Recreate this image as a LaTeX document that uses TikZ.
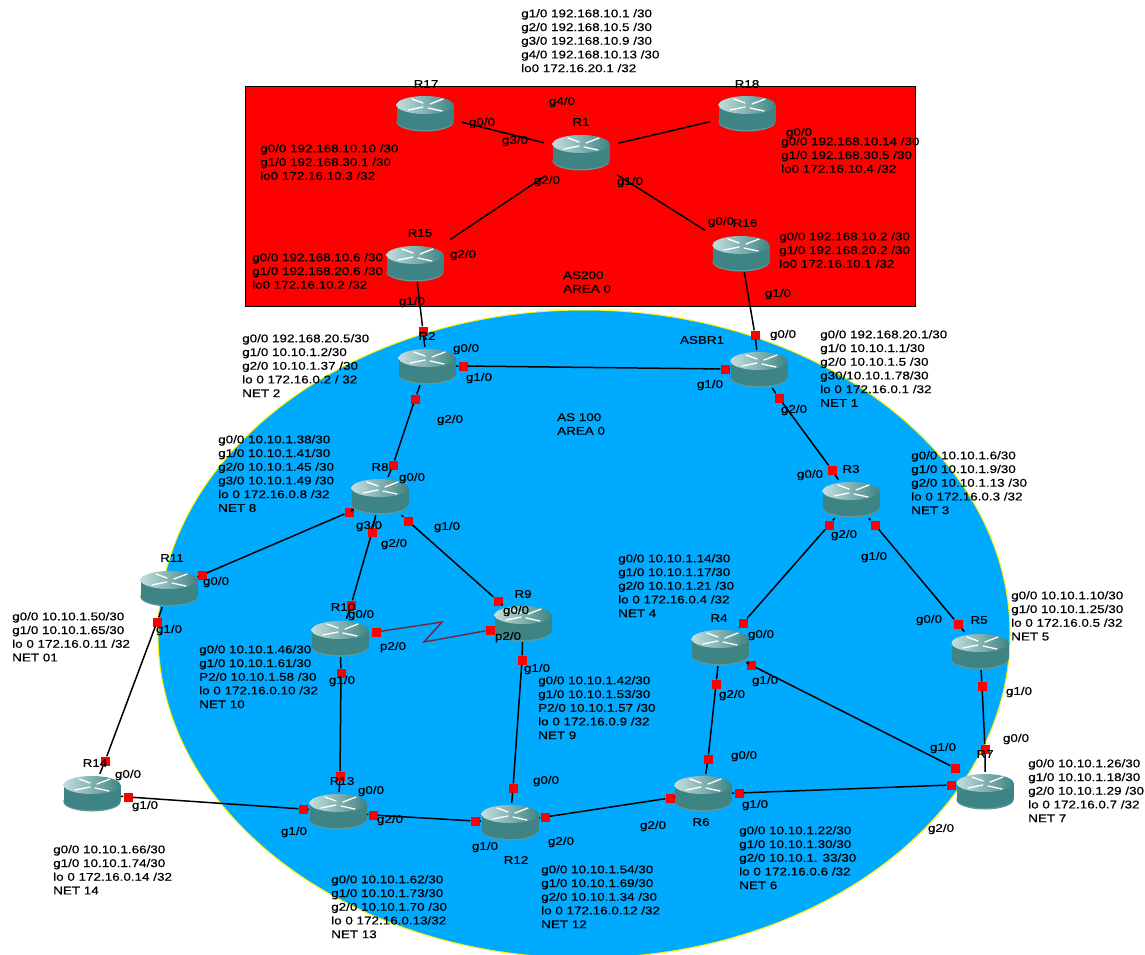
\documentclass[tikz,border=0pt]{standalone}
\usepackage{fontspec}
\usepackage{xcolor}
\setmainfont[FakeStretch=1.2, FakeBold=0.5]{Liberation Sans}
\definecolor{areablue}{HTML}{00AAFF}
\definecolor{bodyteal}{HTML}{3F8484}
\definecolor{rimteal}{HTML}{5E9A9A}
\definecolor{topteal}{HTML}{C4DEDE}
\definecolor{serialred}{HTML}{7A1F2E}

\begin{document}
\begin{tikzpicture}[x=1pt, y=-1pt,
                    every node/.style={font=\fontsize{11.2}{13.7}\selectfont},
                    routerbox/.style={minimum width=58pt, minimum height=38pt, inner sep=0pt,
                      path picture={
                        \begin{scope}[shift={(path picture bounding box.center)}]
                          \fill[rimteal] (0,9) ellipse [x radius=28.5, y radius=9.5];
                          \fill[bodyteal] (-28.5,-8) rectangle (28.5,8);
                          \fill[bodyteal] (0,8) ellipse [x radius=28.5, y radius=9];
                          \shade[left color=topteal, right color=bodyteal] (0,-8) ellipse [x radius=28.5, y radius=9];
                          \draw[white, line width=1.3pt, line cap=round]
                            (-13,-14) -- (-2,-10) (-17,-3) -- (-2,-6)
                            (18,-14) -- (5,-9) (17,-2) -- (3,-5);
                        \end{scope}
                      }},
                    port/.style={fill=red, minimum size=9pt, inner sep=0pt},
                    link/.style={line width=1.5pt},
                    gaplink/.style={link, shorten <=8pt, shorten >=8pt},
                    serial/.style={line width=1.3pt, serialred},
                    ifname/.style={inner sep=0pt},
                    rname/.style={inner sep=0pt},
                    addr/.style={anchor=north west, align=left, inner sep=0pt, yshift=-1pt}]
  \useasboundingbox (0,0) rectangle (1145,955);

  % areas
  \draw[yellow, fill=areablue, line width=1pt] (584,634) ellipse [x radius=426, y radius=324];
  \draw[black, fill=red, line width=1pt] (245,87) rectangle (915,306);

  % routers
  \node[routerbox] (R1) at (581,152) {};
  \node[routerbox] (R17) at (425,113) {};
  \node[routerbox] (R18) at (747,113) {};
  \node[routerbox] (R15) at (415,263) {};
  \node[routerbox] (R16) at (741,253) {};
  \node[routerbox] (R2) at (427,366) {};
  \node[routerbox] (ASBR1) at (759,369) {};
  \node[routerbox] (R8) at (380,496) {};
  \node[routerbox] (R3) at (851,499) {};
  \node[routerbox] (R11) at (169,588) {};
  \node[routerbox] (R10) at (340,638) {};
  \node[routerbox] (R9) at (523,623) {};
  \node[routerbox] (R4) at (720,647) {};
  \node[routerbox] (R5) at (980,651) {};
  \node[routerbox] (R14) at (92,793) {};
  \node[routerbox] (R13) at (338,811) {};
  \node[routerbox] (R12) at (510,822) {};
  \node[routerbox] (R6) at (703,793) {};
  \node[routerbox] (R7) at (985,791) {};

  % ports
  \node[port] (R2top) at (423,331) {};
  \node[port] (ASBRtop) at (755,335) {};
  \node[port] (R2a) at (463,366) {};
  \node[port] (ASBRa) at (725,369) {};
  \node[port] (R2b) at (415,399) {};
  \node[port] (R8a) at (393,465) {};
  \node[port] (ASBRb) at (779,398) {};
  \node[port] (R3a) at (832,470) {};
  \node[port] (R8b) at (349,512) {};
  \node[port] (R11a) at (202,575) {};
  \node[port] (R8c) at (372,532) {};
  \node[port] (R10a) at (351,605) {};
  \node[port] (R8d) at (408,521) {};
  \node[port] (R9a) at (498,601) {};
  \node[port] (R10b) at (376,632) {};
  \node[port] (R9b) at (490,630) {};
  \node[port] (R10c) at (341,673) {};
  \node[port] (R13a) at (340,776) {};
  \node[port] (R9c) at (522,660) {};
  \node[port] (R12a) at (513,788) {};
  \node[port] (R11b) at (157,622) {};
  \node[port] (R14a) at (105,761) {};
  \node[port] (R14b) at (128,797) {};
  \node[port] (R13b) at (303,809) {};
  \node[port] (R13c) at (373,815) {};
  \node[port] (R12b) at (475,821) {};
  \node[port] (R12c) at (545,817) {};
  \node[port] (R6a) at (670,798) {};
  \node[port] (R3b) at (829,525) {};
  \node[port] (R4a) at (743,623) {};
  \node[port] (R3c) at (875,525) {};
  \node[port] (R5a) at (958,624) {};
  \node[port] (R4b) at (716,684) {};
  \node[port] (R6b) at (708,759) {};
  \node[port] (R4c) at (751,665) {};
  \node[port] (R7a) at (955,768) {};
  \node[port] (R5b) at (982,686) {};
  \node[port] (R7b) at (985,749) {};
  \node[port] (R6c) at (739,793) {};
  \node[port] (R7c) at (951,785) {};
  \coordinate (zigA) at (442,622);
  \coordinate (zigB) at (424,642);

  % links
  \draw[gaplink] (R1) -- (R17);
  \draw[gaplink] (R1) -- (R18);
  \draw[gaplink] (R1) -- (R15);
  \draw[gaplink] (R1) -- (R16);
  \draw[link] (R15) -- (R2top) -- (R2);
  \draw[link] (R16) -- (ASBRtop) -- (ASBR1);
  \draw[link] (R2) -- (R2a) -- (ASBRa) -- (ASBR1);
  \draw[link] (R2) -- (R2b) -- (R8a) -- (R8);
  \draw[link] (ASBR1) -- (ASBRb) -- (R3a) -- (R3);
  \draw[link] (R8) -- (R8b) -- (R11a) -- (R11);
  \draw[link] (R8) -- (R8c) -- (R10a) -- (R10);
  \draw[link] (R8) -- (R8d) -- (R9a) -- (R9);
  \draw[serial] (R10b) -- (zigA) -- (zigB) -- (R9b);
  \draw[link] (R10) -- (R10c) -- (R13a) -- (R13);
  \draw[link] (R9) -- (R9c) -- (R12a) -- (R12);
  \draw[link] (R11) -- (R11b) -- (R14a) -- (R14);
  \draw[link] (R14) -- (R14b) -- (R13b) -- (R13);
  \draw[link] (R13) -- (R13c) -- (R12b) -- (R12);
  \draw[link] (R12) -- (R12c) -- (R6a) -- (R6);
  \draw[link] (R3) -- (R3b) -- (R4a) -- (R4);
  \draw[link] (R3) -- (R3c) -- (R5a) -- (R5);
  \draw[link] (R4) -- (R4b) -- (R6b) -- (R6);
  \draw[link] (R4) -- (R4c) -- (R7a) -- (R7);
  \draw[link] (R5) -- (R5b) -- (R7b) -- (R7);
  \draw[link] (R6) -- (R6c) -- (R7c) -- (R7);

  % router names
  \node[rname] (nR1) at (581,122) {R1};
  \node[rname] (nR17) at (426,84) {R17};
  \node[rname] (nR18) at (747,84) {R18};
  \node[rname] (nR15) at (420,233) {R15};
  \node[rname] (nR16) at (745,223) {R16};
  \node[rname] (nR2) at (427,336) {R2};
  \node[rname] (nASBR1) at (702,340) {ASBR1};
  \node[rname] (nR8) at (380,467) {R8};
  \node[rname] (nR3) at (851,469) {R3};
  \node[rname] (nR11) at (172,558) {R11};
  \node[rname] (nR10) at (343,607) {R10};
  \node[rname] (nR9) at (523,594) {R9};
  \node[rname] (nR4) at (719,618) {R4};
  \node[rname] (nR5) at (979,620) {R5};
  \node[rname] (nR14) at (95,763) {R14};
  \node[rname] (nR13) at (342,781) {R13};
  \node[rname] (nR12) at (516,860) {R12};
  \node[rname] (nR6) at (701,822) {R6};
  \node[rname] (nR7) at (985,754) {R7};

  % interface names
  \node[ifname] (R1g4) at (562,102) {g4/0};
  \node[ifname] (R17g0) at (482,123) {g0/0};
  \node[ifname] (R1g3) at (515,141) {g3/0};
  \node[ifname] (R1g2) at (547,181) {g2/0};
  \node[ifname] (R1g1) at (630,182) {g1/0};
  \node[ifname] (R16g0) at (721,222) {g0/0};
  \node[ifname] (R15g2) at (463,255) {g2/0};
  \node[ifname] (R15g1) at (412,302) {g1/0};
  \node[ifname] (R16g1) at (778,294) {g1/0};
  \node[ifname] (R18g0) at (799,133) {g0/0};
  \node[ifname] (R2g0) at (466,349) {g0/0};
  \node[ifname] (R2g1) at (479,378) {g1/0};
  \node[ifname] (R2g2) at (450,420) {g2/0};
  \node[ifname] (ASBRg0) at (783,335) {g0/0};
  \node[ifname] (ASBRg1) at (710,385) {g1/0};
  \node[ifname] (ASBRg2) at (794,410) {g2/0};
  \node[ifname] (R8g0) at (412,478) {g0/0};
  \node[ifname] (R8g3) at (369,526) {g3/0};
  \node[ifname] (R8g2) at (394,544) {g2/0};
  \node[ifname] (R8g1) at (447,527) {g1/0};
  \node[ifname] (R11g0) at (216,582) {g0/0};
  \node[ifname] (R11g1) at (169,630) {g1/0};
  \node[ifname] (R10g0) at (361,615) {g0/0};
  \node[ifname] (R10p2) at (393,647) {p2/0};
  \node[ifname] (R10g1) at (342,681) {g1/0};
  \node[ifname] (R9g0) at (516,611) {g0/0};
  \node[ifname] (R9p2) at (508,637) {p2/0};
  \node[ifname] (R9g1) at (537,669) {g1/0};
  \node[ifname] (R14g0) at (128,775) {g0/0};
  \node[ifname] (R14g1) at (145,806) {g1/0};
  \node[ifname] (R13g0) at (371,791) {g0/0};
  \node[ifname] (R13g2) at (390,820) {g2/0};
  \node[ifname] (R13g1) at (294,832) {g1/0};
  \node[ifname] (R12g0) at (546,781) {g0/0};
  \node[ifname] (R12g1) at (485,847) {g1/0};
  \node[ifname] (R12g2) at (561,842) {g2/0};
  \node[ifname] (R6g0) at (744,756) {g0/0};
  \node[ifname] (R6g1) at (755,805) {g1/0};
  \node[ifname] (R6g2) at (653,826) {g2/0};
  \node[ifname] (R7g0) at (1016,739) {g0/0};
  \node[ifname] (R7g1) at (943,748) {g1/0};
  \node[ifname] (R7g2) at (941,829) {g2/0};
  \node[ifname] (R4g0) at (761,635) {g0/0};
  \node[ifname] (R4g1) at (765,681) {g1/0};
  \node[ifname] (R4g2) at (732,695) {g2/0};
  \node[ifname] (R5g0) at (929,620) {g0/0};
  \node[ifname] (R5g1) at (1019,692) {g1/0};
  \node[ifname] (R3g0) at (810,475) {g0/0};
  \node[ifname] (R3g2) at (844,535) {g2/0};
  \node[ifname] (R3g1) at (874,557) {g1/0};

  % area names
  \node[addr] (as200) at (563,270) {AS200\\AREA 0};
  \node[addr] (as100) at (557,412) {AS 100\\AREA 0};

  % addresses
  \node[addr] (aR1) at (521,8) {g1/0 192.168.10.1 /30\\g2/0 192.168.10.5 /30\\g3/0 192.168.10.9 /30\\g4/0 192.168.10.13 /30\\lo0 172.16.20.1 /32};
  \node[addr] (aR17) at (260,143) {g0/0 192.168.10.10 /30\\g1/0 192.168.30.1 /30\\lo0 172.16.10.3 /32};
  \node[addr] (aR18) at (781,136) {g0/0 192.168.10.14 /30\\g1/0 192.168.30.5 /30\\lo0 172.16.10.4 /32};
  \node[addr] (aR15) at (252,252) {g0/0 192.168.10.6 /30\\g1/0 192.168.20.6 /30\\lo0 172.16.10.2 /32};
  \node[addr] (aR16) at (779,231) {g0/0 192.168.10.2 /30\\g1/0 192.168.20.2 /30\\lo0 172.16.10.1 /32};
  \node[addr] (aR2) at (242,333) {g0/0 192.168.20.5/30\\g1/0 10.10.1.2/30\\g2/0 10.10.1.37 /30\\lo 0 172.16.0.2 / 32\\NET 2};
  \node[addr] (aASBR1) at (820,329) {g0/0 192.168.20.1/30\\g1/0 10.10.1.1/30\\g2/0 10.10.1.5 /30\\g30/10.10.1.78/30\\lo 0 172.16.0.1 /32\\NET 1};
  \node[addr] (aR8) at (218,434) {g0/0 10.10.1.38/30\\g1/0 10.10.1.41/30\\g2/0 10.10.1.45 /30\\g3/0 10.10.1.49 /30\\lo 0 172.16.0.8 /32\\NET 8};
  \node[addr] (aR3) at (911,450) {g0/0 10.10.1.6/30\\g1/0 10.10.1.9/30\\g2/0 10.10.1.13 /30\\lo 0 172.16.0.3 /32\\NET 3};
  \node[addr] (aR11) at (12,611) {g0/0 10.10.1.50/30\\g1/0 10.10.1.65/30\\lo 0 172.16.0.11 /32\\NET 01};
  \node[addr] (aR10) at (199,644) {g0/0 10.10.1.46/30\\g1/0 10.10.1.61/30\\P2/0 10.10.1.58 /30\\lo 0 172.16.0.10 /32\\NET 10};
  \node[addr] (aR9) at (538,675) {g0/0 10.10.1.42/30\\g1/0 10.10.1.53/30\\P2/0 10.10.1.57 /30\\lo 0 172.16.0.9 /32\\NET 9};
  \node[addr] (aR4) at (618,553) {g0/0 10.10.1.14/30\\g1/0 10.10.1.17/30\\g2/0 10.10.1.21 /30\\lo 0 172.16.0.4 /32\\NET 4};
  \node[addr] (aR5) at (1011,590) {g0/0 10.10.1.10/30\\g1/0 10.10.1.25/30\\lo 0 172.16.0.5 /32\\NET 5};
  \node[addr] (aR7) at (1028,758) {g0/0 10.10.1.26/30\\g1/0 10.10.1.18/30\\g2/0 10.10.1.29 /30\\lo 0 172.16.0.7 /32\\NET 7};
  \node[addr] (aR6) at (739,825) {g0/0 10.10.1.22/30\\g1/0 10.10.1.30/30\\g2/0 10.10.1. 33/30\\lo 0 172.16.0.6 /32\\NET 6};
  \node[addr] (aR12) at (541,864) {g0/0 10.10.1.54/30\\g1/0 10.10.1.69/30\\g2/0 10.10.1.34 /30\\lo 0 172.16.0.12 /32\\NET 12};
  \node[addr] (aR13) at (331,874) {g0/0 10.10.1.62/30\\g1/0 10.10.1.73/30\\g2/0 10.10.1.70 /30\\lo 0 172.16.0.13/32\\NET 13};
  \node[addr] (aR14) at (53,844) {g0/0 10.10.1.66/30\\g1/0 10.10.1.74/30\\lo 0 172.16.0.14 /32\\NET 14};
\end{tikzpicture}
\end{document}
